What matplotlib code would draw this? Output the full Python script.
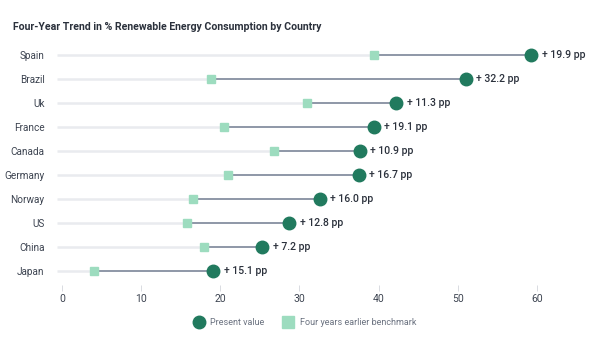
import matplotlib

matplotlib.use("Agg")
import matplotlib.pyplot as plt
from matplotlib.lines import Line2D

countries = ["Spain", "Brazil", "Uk", "France", "Canada", "Germany", "Norway", "US", "China", "Japan"]
present = [59.3, 51.0, 42.2, 39.4, 37.6, 37.5, 32.6, 28.7, 25.3, 19.1]
earlier = [39.4, 18.8, 30.9, 20.5, 26.8, 21.0, 16.6, 15.8, 18.0, 4.0]
change_labels = ["+ 19.9 pp", "+ 32.2 pp", "+ 11.3 pp", "+ 19.1 pp", "+ 10.9 pp",
                 "+ 16.7 pp", "+ 16.0 pp", "+ 12.8 pp", "+ 7.2 pp", "+ 15.1 pp"]
xticks = [0, 10, 20, 30, 40, 50, 60]

DARK = "#217a5e"
LIGHT = "#9ddcbf"
CONN = "#7c8598"
TRACK = "#e9ebef"
TEXT = "#3d4451"

plt.rcParams["font.family"] = ["Roboto", "DejaVu Sans"]

fig = plt.figure(figsize=(6.0, 3.46), dpi=100)
ax = fig.add_axes([0.0835, 0.1751, 0.8775, 0.7075])
ax.set_xlim(-1.5, 65)
ax.set_ylim(len(countries) - 0.4, -0.6)

for i, (p, e, lab) in enumerate(zip(present, earlier, change_labels)):
    ax.plot([-0.6, min(p, e)], [i, i], color=TRACK, lw=1.8, solid_capstyle="butt", zorder=1)
    ax.plot([e, p], [i, i], color=CONN, lw=1.2, zorder=2)
    ax.plot(e, i, "s", color=LIGHT, ms=5.8, zorder=3)
    ax.plot(p, i, "o", color=DARK, ms=9, zorder=4)
    ax.annotate(lab, (p, i), xytext=(7.5, 0), textcoords="offset points",
                va="center", ha="left", fontsize=7.5, color="#2b313c", fontweight="medium")

ax.set_yticks(range(len(countries)))
ax.set_yticklabels(countries, fontsize=7.2, color=TEXT)
ax.tick_params(axis="y", length=0, pad=4)
ax.set_xticks(xticks)
ax.set_xticklabels([str(t) for t in xticks], fontsize=7.5, color=TEXT)
ax.tick_params(axis="x", length=4, width=0.6, color="#d3d6dc", pad=2.5)
for s in ax.spines.values():
    s.set_visible(False)

fig.text(0.022, 0.922, "Four-Year Trend in % Renewable Energy Consumption by Country",
         fontsize=7.6, fontweight="bold", color="#2b313c", va="center", ha="left")

handles = [
    Line2D([], [], marker="o", ls="", color=DARK, ms=9, label="Present value"),
    Line2D([], [], marker="s", ls="", color=LIGHT, ms=8, label="Four years earlier benchmark"),
]
fig.legend(handles=handles, loc="center", bbox_to_anchor=(0.505, 0.068), ncol=2, frameon=False,
           fontsize=6.5, labelcolor="#6b7280", handletextpad=0.3, columnspacing=1.6)

fig.savefig("out.png", dpi=100)
